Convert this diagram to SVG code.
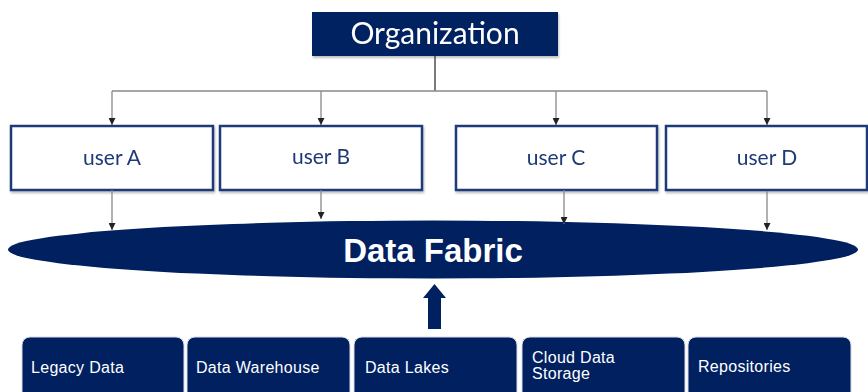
<svg xmlns="http://www.w3.org/2000/svg" width="868" height="392" viewBox="0 0 868 392">
<defs>
<marker id="ah" viewBox="0 0 8 8" refX="8" refY="4" markerWidth="7" markerHeight="7" markerUnits="userSpaceOnUse" orient="auto">
<path d="M0,0 L8,4 L0,8 Z" fill="#222"/>
</marker>
<filter id="sh" x="-5%" y="-10%" width="110%" height="130%">
<feDropShadow dx="1" dy="2" stdDeviation="1.2" flood-color="#000" flood-opacity="0.25"/>
</filter>
</defs>
<style>
.user rect{fill:#fff;stroke:#1f3a78;stroke-width:2.5;}
.user text{font-family:Lato,"Open Sans",sans-serif;font-size:21px;fill:#1f3a78;text-anchor:middle;}
.src rect{fill:#002060;stroke:#d8dce6;stroke-width:1;}
.src text{font-family:"Liberation Sans",Arial,sans-serif;font-size:16px;fill:#fff;letter-spacing:0.3px;}
.conn line,.conn polyline{stroke:#888;stroke-width:1.3;fill:none;}
.conn .dark{stroke:#333;}
</style>
<g id="organization" filter="url(#sh)">
<rect x="312" y="12" width="246" height="44" fill="#002060"/>
<text x="435" y="44" font-family="Lato,'Open Sans',sans-serif" font-size="30" fill="#fff" text-anchor="middle">Organization</text>
</g>
<g id="userA" class="user" filter="url(#sh)">
<rect x="11" y="126" width="202" height="64"/>
<text x="112" y="165">user A</text>
</g>
<g id="userB" class="user" filter="url(#sh)">
<rect x="220" y="126" width="202" height="64"/>
<text x="321" y="164">user B</text>
</g>
<g id="userC" class="user" filter="url(#sh)">
<rect x="456" y="126" width="201" height="64"/>
<text x="556" y="165">user C</text>
</g>
<g id="userD" class="user" filter="url(#sh)">
<rect x="666" y="126" width="201" height="64"/>
<text x="767" y="165">user D</text>
</g>
<g id="dataFabric">
<ellipse cx="433" cy="249.5" rx="425" ry="29" fill="#002060"/>
<text x="433" y="262" font-family="'Liberation Sans',Arial,sans-serif" font-weight="bold" font-size="33" fill="#fff" text-anchor="middle">Data Fabric</text>
</g>
<g id="upArrow">
<path d="M434.5,284 L446,298 L441,298 L441,329 L428,329 L428,298 L423,298 Z" fill="#002060"/>
</g>
<g id="legacy" class="src">
<rect x="22" y="337" width="162" height="70" rx="8"/>
<text x="31" y="373">Legacy Data</text>
</g>
<g id="warehouse" class="src">
<rect x="187" y="337" width="163" height="70" rx="8"/>
<text x="196" y="373">Data Warehouse</text>
</g>
<g id="lakes" class="src">
<rect x="354" y="337" width="163" height="70" rx="8"/>
<text x="365" y="373">Data Lakes</text>
</g>
<g id="cloud" class="src">
<rect x="522" y="337" width="163" height="70" rx="8"/>
<text x="532" y="363">Cloud Data</text>
<text x="532" y="379">Storage</text>
</g>
<g id="repos" class="src">
<rect x="688" y="337" width="163" height="70" rx="8"/>
<text x="698" y="372">Repositories</text>
</g>
<g id="connectors" class="conn">
<line class="dark" x1="435" y1="56" x2="435" y2="91"/>
<line x1="112" y1="91" x2="767" y2="91"/>
<line x1="112" y1="91" x2="112" y2="125" marker-end="url(#ah)"/>
<line x1="321" y1="91" x2="321" y2="125" marker-end="url(#ah)"/>
<line x1="556" y1="91" x2="556" y2="125" marker-end="url(#ah)"/>
<line x1="767" y1="91" x2="767" y2="125" marker-end="url(#ah)"/>
<line x1="112" y1="190" x2="112" y2="230" marker-end="url(#ah)"/>
<line x1="321" y1="190" x2="321" y2="219" marker-end="url(#ah)"/>
<line x1="564" y1="190" x2="564" y2="224" marker-end="url(#ah)"/>
<line x1="767" y1="191" x2="767" y2="230" marker-end="url(#ah)"/>
</g>
</svg>
